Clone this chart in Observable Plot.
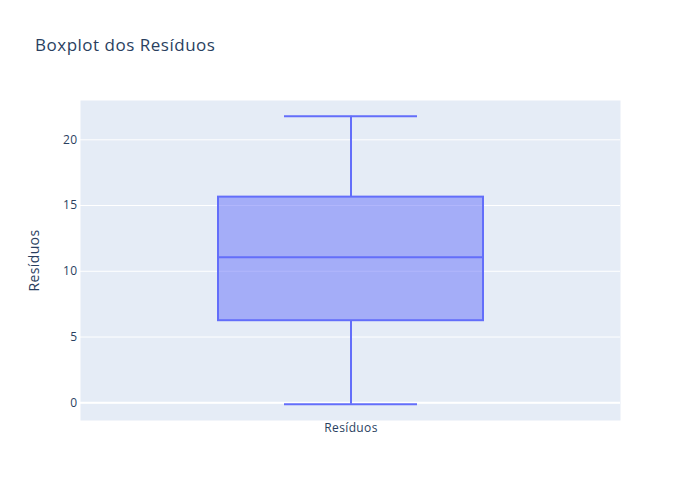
<!DOCTYPE html>
<html><head><meta charset="utf-8">
<script src="https://cdn.jsdelivr.net/npm/d3@7"></script>
<script src="https://cdn.jsdelivr.net/npm/@observablehq/plot@0.6"></script>
<style>
body{margin:0;background:#fff}
#wrap{position:relative;width:700px;height:500px}
#title{position:absolute;left:35px;top:35.5px;font-family:"Open Sans";font-size:17px;line-height:17px;letter-spacing:0.03em;color:#2a3f5f;white-space:nowrap}
</style>
</head><body>
<div id="wrap"><div id="title">Boxplot dos Resíduos</div></div>
<script>
const categories = ["Resíduos"];
const lowerWhisker = [-0.11];
const q1 = [6.24];
const median = [11.07];
const q3 = [15.64];
const upperWhisker = [21.79];
const yTicks = [0, 5, 10, 15, 20];
const yLabel = "Resíduos";

const data = categories.map((c, i) => ({cat: c, lo: lowerWhisker[i], q1: q1[i], med: median[i], q3: q3[i], hi: upperWhisker[i]}));
const blue = "#636efa";

const chart = Plot.plot({
  width: 700, height: 500,
  marginLeft: 80, marginRight: 80, marginTop: 100, marginBottom: 80,
  style: {fontFamily: "Open Sans", fontSize: "12px", color: "#2a3f5f", background: "transparent", letterSpacing: "0.03em"},
  x: {type: "band", domain: categories, padding: 0.3416, label: null},
  y: {domain: [-1.35, 22.99], label: null},
  marks: [
    Plot.frame({fill: "#E5ECF6", stroke: "none"}),
    Plot.gridY(yTicks, {stroke: "white", strokeOpacity: 1, strokeWidth: 1}),
    Plot.ruleY([0], {stroke: "white", strokeWidth: 2}),
    Plot.ruleX(data, {x: "cat", y1: "q3", y2: "hi", stroke: blue, strokeWidth: 2}),
    Plot.ruleX(data, {x: "cat", y1: "lo", y2: "q1", stroke: blue, strokeWidth: 2}),
    Plot.tickY(data, {x: "cat", y: "hi", stroke: blue, strokeWidth: 2, insetLeft: 66, insetRight: 66}),
    Plot.tickY(data, {x: "cat", y: "lo", stroke: blue, strokeWidth: 2, insetLeft: 66, insetRight: 66}),
    Plot.barY(data, {x: "cat", y1: "q1", y2: "q3", fill: "rgba(99,110,250,0.5)", stroke: blue, strokeWidth: 2}),
    Plot.tickY(data, {x: "cat", y: "med", stroke: blue, strokeWidth: 2}),
    Plot.axisY(yTicks, {tickSize: 0, tickPadding: 3, label: null, fontSize: 12, fill: "#2a3f5f"}),
    Plot.axisX({tickSize: 0, tickPadding: 3, label: null, fontSize: 12, fill: "#2a3f5f"}),
    Plot.text([yLabel], {frameAnchor: "left", rotate: -90, dx: -46, fontSize: 14, fill: "#2a3f5f", textAnchor: "middle"})
  ]
});
document.getElementById("wrap").appendChild(chart);
</script>
</body></html>
